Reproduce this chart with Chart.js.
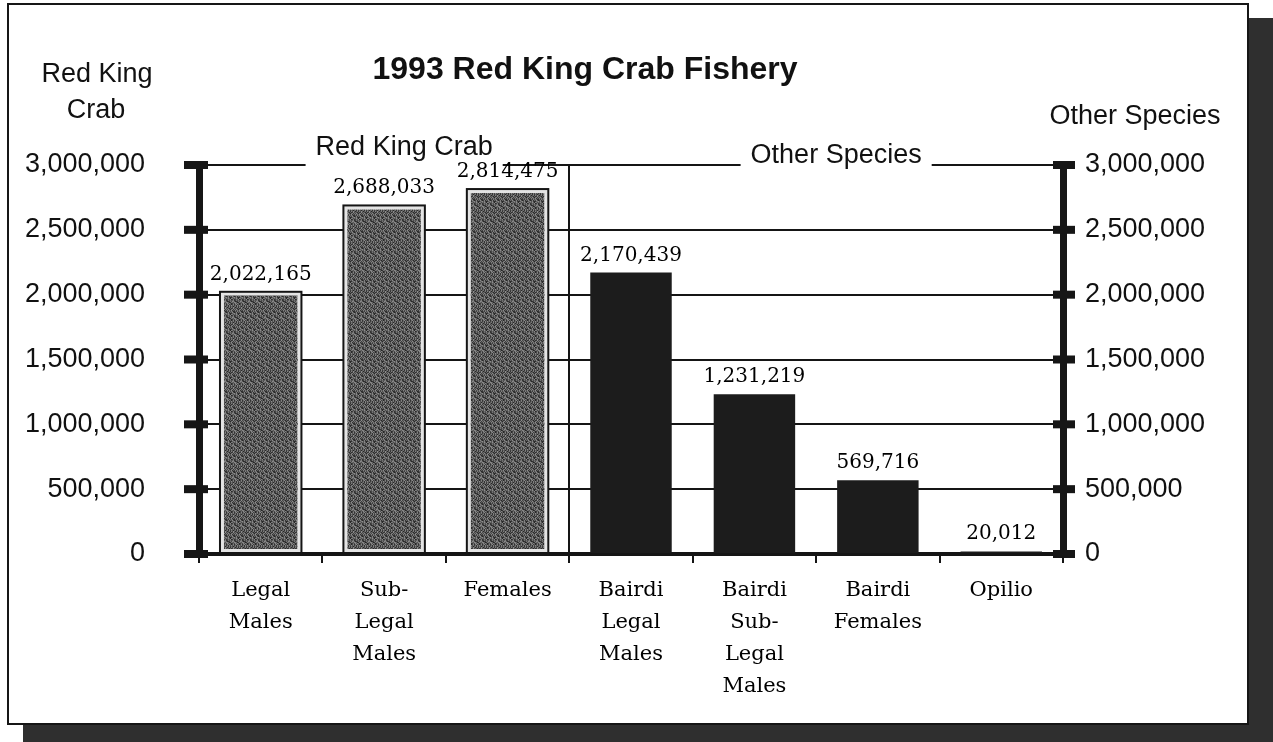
<!DOCTYPE html>
<html>
<head>
<meta charset="utf-8">
<script src="https://cdn.jsdelivr.net/npm/chart.js@4.4.1/dist/chart.umd.min.js"></script>
<style>
  body { margin: 0; background: #fff; }
  #shadow { position: absolute; left: 23px; top: 18px; width: 1250px; height: 724px; background: #2f2f2f; }
  #frame { position: absolute; left: 7px; top: 3px; width: 1242px; height: 722px; box-sizing: border-box; border: 2px solid #161616; background: #fff; }
  #crab { position: absolute; left: 0; top: 0; }
</style>
</head>
<body>
<div id="shadow"></div>
<div id="frame"></div>
<canvas id="crab" width="1273" height="742"></canvas>
<script>
// 1993 catch counts
var categories = [
    ['Legal', 'Males'],
    ['Sub-', 'Legal', 'Males'],
    ['Females'],
    ['Bairdi', 'Legal', 'Males'],
    ['Bairdi', 'Sub-', 'Legal', 'Males'],
    ['Bairdi', 'Females'],
    ['Opilio']
];
var catches = [2022165, 2688033, 2814475, 2170439, 1231219, 569716, 20012];
var groups = ['Red King Crab', 'Red King Crab', 'Red King Crab',
              'Other Species', 'Other Species', 'Other Species', 'Other Species'];
var groupNames = ['Red King Crab', 'Other Species'];
var tickValues = [0, 500000, 1000000, 1500000, 2000000, 2500000, 3000000];

var sans = '"Liberation Sans", Arial, sans-serif';
var serif = '"DejaVu Serif", serif';

// speckled grey fill like the printed stipple
function stipple() {
    var levels = '3816925047261839405718263950471829364051827394061528374960152837' +
                 '9402816357948201736495082713649058127364985012736498501726394850';
    var c = document.createElement('canvas');
    c.width = 8; c.height = 16;
    var g = c.getContext('2d');
    for (var i = 0; i < 128; i++) {
        var v = 40 + parseInt(levels[i], 10) * 11;
        g.fillStyle = 'rgb(' + v + ',' + v + ',' + v + ')';
        g.fillRect(i % 8, Math.floor(i / 8), 1, 1);
    }
    return g.createPattern(c, 'repeat');
}
var stip = stipple();

function fmt(v) { return v.toLocaleString('en-US'); }

var decorations = {
    id: 'decorations',
    afterDatasetsDraw: function (chart) {
        var ctx = chart.ctx;
        var meta = chart.getDatasetMeta(0);
        ctx.save();
        meta.data.forEach(function (bar, i) {
            if (groups[i] === 'Red King Crab') {
                ctx.strokeStyle = '#151515';
                ctx.lineWidth = 2;
                ctx.strokeRect(bar.x - bar.width / 2, bar.y, bar.width, bar.base - bar.y);
            }
        });
        ctx.restore();
    },
    afterDraw: function (chart) {
        var ctx = chart.ctx;
        var area = chart.chartArea;
        var y = chart.scales.y, x = chart.scales.x;
        ctx.save();
        ctx.fillStyle = '#161616';
        // heavy tick marks across both value axes
        tickValues.forEach(function (v) {
            var py = y.getPixelForValue(v);
            ctx.fillRect(area.left - 15, py - 4, 24, 8);
            ctx.fillRect(area.right - 10, py - 4, 22, 8);
        });

        // group labels sitting on the top grid line
        var step = x.width / categories.length;
        var bounds = [[0, 3], [3, 7]];
        ctx.font = '27px ' + sans;
        ctx.textAlign = 'center';
        ctx.textBaseline = 'alphabetic';
        groupNames.forEach(function (name, k) {
            var cx = x.left + step * (bounds[k][0] + bounds[k][1]) / 2 + 20;
            var w = ctx.measureText(name).width + 20;
            ctx.fillStyle = '#fff';
            ctx.fillRect(cx - w / 2, area.top - 5, w, 10);
            ctx.fillStyle = '#111';
            ctx.fillText(name, cx, k === 0 ? area.top - 10 : area.top - 2);
        });

        // value labels above the bars
        ctx.font = '20px ' + serif;
        ctx.fillStyle = '#000';
        chart.getDatasetMeta(0).data.forEach(function (bar, i) {
            ctx.fillText(fmt(catches[i]), bar.x, bar.y - 12);
        });

        // axis captions and title
        ctx.fillStyle = '#111';
        ctx.font = '27px ' + sans;
        ctx.fillText('Red King', 97, 82);
        ctx.fillText('Crab', 96, 118);
        ctx.fillText('Other Species', 1135, 124);
        ctx.font = 'bold 32px ' + sans;
        ctx.fillText('1993 Red King Crab Fishery', 585, 79);
        ctx.restore();
    }
};

var ctx = document.getElementById('crab').getContext('2d');
var crabChart = new Chart(ctx, {
    type: 'bar',
    data: {
        labels: categories,
        datasets: [{
            data: catches,
            backgroundColor: groups.map(function (g) { return g === 'Red King Crab' ? stip : '#1c1c1c'; }),
            borderColor: groups.map(function (g) { return g === 'Red King Crab' ? '#e4e4e4' : '#1c1c1c'; }),
            borderWidth: groups.map(function (g) { return g === 'Red King Crab' ? 4 : 0; }),
            borderSkipped: false,
            barPercentage: 0.66,
            categoryPercentage: 1
        }]
    },
    options: {
        responsive: false,
        animation: false,
        layout: { padding: { top: 165, left: 0, right: 0, bottom: 0 } },
        plugins: {
            legend: { display: false },
            tooltip: { enabled: false },
            title: { display: false }
        },
        scales: {
            x: {
                afterFit: function (s) { s.height = 188; },
                grid: {
                    offset: true,
                    color: function (c) { return c.index === 3 ? '#151515' : 'rgba(0,0,0,0)'; },
                    lineWidth: 2,
                    tickColor: '#151515',
                    tickLength: 9,
                    tickWidth: 2
                },
                border: { display: true, color: '#151515', width: 4 },
                ticks: {
                    color: '#000',
                    font: { family: serif, size: 21, lineHeight: 1.52 },
                    padding: 12,
                    maxRotation: 0,
                    autoSkip: false
                }
            },
            y: {
                position: 'left',
                min: 0,
                max: 3000000,
                afterFit: function (s) { s.width = 199; },
                afterBuildTicks: function (s) { s.ticks = tickValues.map(function (v) { return { value: v }; }); },
                grid: { color: '#151515', lineWidth: 2, drawTicks: false },
                border: { display: true, color: '#161616', width: 7 },
                ticks: {
                    color: '#111',
                    font: { family: sans, size: 27 },
                    padding: 54,
                    callback: function (v) { return fmt(v); }
                }
            },
            y2: {
                position: 'right',
                min: 0,
                max: 3000000,
                afterFit: function (s) { s.width = 210; },
                afterBuildTicks: function (s) { s.ticks = tickValues.map(function (v) { return { value: v }; }); },
                grid: { drawOnChartArea: false, drawTicks: false },
                border: { display: true, color: '#161616', width: 7 },
                ticks: {
                    color: '#111',
                    font: { family: sans, size: 27 },
                    padding: 22,
                    callback: function (v) { return fmt(v); }
                }
            }
        }
    },
    plugins: [decorations]
});
</script>
</body>
</html>
